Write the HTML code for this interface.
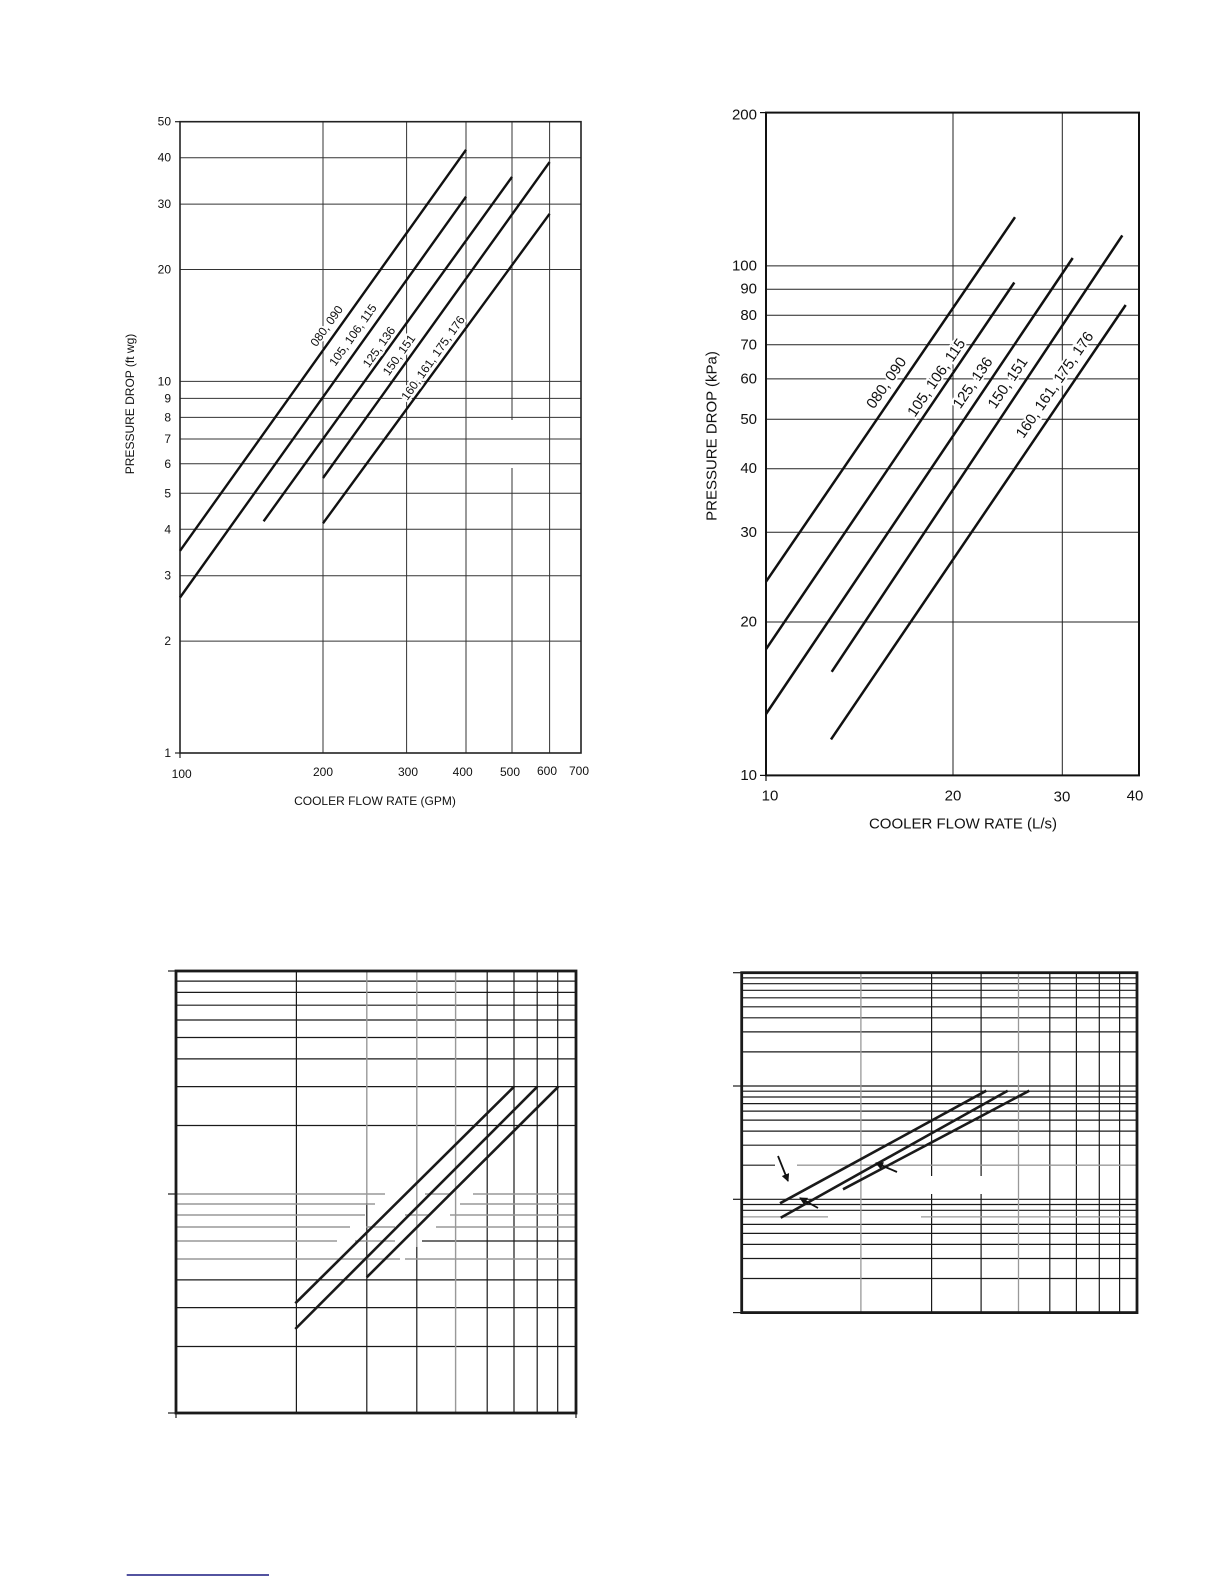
<!DOCTYPE html>
<html><head><meta charset="utf-8"><style>html,body{margin:0;padding:0;background:#fff}svg{display:block}</style></head>
<body>
<svg width="1224" height="1584" viewBox="0 0 1224 1584" xmlns="http://www.w3.org/2000/svg" font-family="Liberation Sans, sans-serif">
<defs>
<marker id="ah" markerWidth="8" markerHeight="8" refX="7" refY="4" orient="auto" markerUnits="userSpaceOnUse"><path d="M0,0 L8,4 L0,8 Z" fill="#111"/></marker>
</defs>
<rect width="1224" height="1584" fill="#fff"/>

<!-- ===== TOP LEFT ===== -->
<g stroke="#333" stroke-width="1" fill="none">
<line x1="180" y1="641.1" x2="581" y2="641.1"/><line x1="180" y1="575.7" x2="581" y2="575.7"/>
<line x1="180" y1="529.3" x2="581" y2="529.3"/><line x1="180" y1="493.3" x2="581" y2="493.3"/>
<line x1="180" y1="463.8" x2="581" y2="463.8"/><line x1="180" y1="439" x2="581" y2="439"/>
<line x1="180" y1="417.4" x2="581" y2="417.4"/><line x1="180" y1="398.4" x2="581" y2="398.4"/>
<line x1="180" y1="381.4" x2="581" y2="381.4"/><line x1="180" y1="269.5" x2="581" y2="269.5"/>
<line x1="180" y1="204.1" x2="581" y2="204.1"/><line x1="180" y1="157.7" x2="581" y2="157.7"/>
<line x1="323" y1="121.7" x2="323" y2="753"/><line x1="406.6" y1="121.7" x2="406.6" y2="753"/>
<line x1="466" y1="121.7" x2="466" y2="753"/><line x1="512" y1="121.7" x2="512" y2="420"/><line x1="512" y1="468" x2="512" y2="753"/>
<line x1="549.6" y1="121.7" x2="549.6" y2="753"/>
</g>
<rect x="180" y="121.7" width="401" height="631.3" fill="none" stroke="#222" stroke-width="1.6"/>
<g stroke="#222" stroke-width="1.2">
<line x1="175" y1="121.7" x2="180" y2="121.7"/><line x1="175" y1="753" x2="180" y2="753"/>
<line x1="180" y1="753" x2="180" y2="758"/>
</g>
<g stroke="#111" stroke-width="2.4" fill="none" stroke-linecap="butt">
<line x1="180" y1="550.8" x2="466" y2="149.8"/>
<line x1="180" y1="597.5" x2="466" y2="196.7"/>
<line x1="263.6" y1="521.3" x2="512" y2="176.9"/>
<line x1="323" y1="478" x2="549.6" y2="162.1"/>
<line x1="323" y1="523.3" x2="549.6" y2="213.8"/>
</g>
<g font-size="12" fill="#111" stroke="#fff" stroke-width="4" paint-order="stroke" text-anchor="middle" dominant-baseline="central">
<text transform="translate(326.7,326) rotate(-54.5)">080, 090</text>
<text transform="translate(353,335) rotate(-54.5)">105, 106, 115</text>
<text transform="translate(379,347) rotate(-54.5)">125, 136</text>
<text transform="translate(399,355) rotate(-54.5)">150, 151</text>
<text transform="translate(433,358) rotate(-54.5)">160, 161, 175, 176</text>
</g>
<g font-size="12" fill="#111" text-anchor="end" dominant-baseline="central">
<text x="171" y="121.7">50</text><text x="171" y="157.7">40</text><text x="171" y="204.1">30</text>
<text x="171" y="269.5">20</text><text x="171" y="381.4">10</text><text x="171" y="398.4">9</text>
<text x="171" y="417.4">8</text><text x="171" y="439">7</text><text x="171" y="463.8">6</text>
<text x="171" y="493.3">5</text><text x="171" y="529.3">4</text><text x="171" y="575.7">3</text>
<text x="171" y="641.1">2</text><text x="171" y="753">1</text>
</g>
<g font-size="12" fill="#111" text-anchor="middle" dominant-baseline="central">
<text x="181.7" y="774">100</text><text x="323" y="772">200</text><text x="408" y="772">300</text>
<text x="462.7" y="772">400</text><text x="510" y="772">500</text><text x="547" y="771">600</text><text x="579" y="771">700</text>
<text x="375" y="801">COOLER FLOW RATE (GPM)</text>
<text transform="translate(130,404) rotate(-90)">PRESSURE DROP (ft wg)</text>
</g>

<!-- ===== TOP RIGHT ===== -->
<g stroke="#222" stroke-width="1" fill="none">
<line x1="766" y1="622" x2="1139" y2="622"/><line x1="766" y1="532.3" x2="1139" y2="532.3"/>
<line x1="766" y1="468.7" x2="1139" y2="468.7"/><line x1="766" y1="419.3" x2="1139" y2="419.3"/>
<line x1="766" y1="378.9" x2="1139" y2="378.9"/><line x1="766" y1="344.8" x2="1139" y2="344.8"/>
<line x1="766" y1="315.3" x2="1139" y2="315.3"/><line x1="766" y1="289.2" x2="1139" y2="289.2"/>
<line x1="766" y1="265.9" x2="1139" y2="265.9"/>
<line x1="953" y1="112.6" x2="953" y2="775.4"/><line x1="1062.3" y1="112.6" x2="1062.3" y2="775.4"/>
</g>
<rect x="766" y="112.6" width="373" height="662.8" fill="none" stroke="#111" stroke-width="2"/>
<g stroke="#111" stroke-width="1.2">
<line x1="760" y1="112.6" x2="766" y2="112.6"/><line x1="760" y1="775.4" x2="766" y2="775.4"/>
<line x1="766" y1="775.4" x2="766" y2="781"/>
</g>
<g stroke="#111" stroke-width="2.5" fill="none">
<line x1="766" y1="581.7" x2="1015" y2="217.2"/>
<line x1="766" y1="649.2" x2="1014.3" y2="282.5"/>
<line x1="766" y1="714" x2="1072.7" y2="258"/>
<line x1="831.7" y1="671.8" x2="1122.3" y2="235.4"/>
<line x1="831" y1="739.4" x2="1125.7" y2="305"/>
</g>
<g font-size="15" fill="#111" stroke="#fff" stroke-width="4" paint-order="stroke" text-anchor="middle" dominant-baseline="central">
<text transform="translate(886.7,383) rotate(-55.6)">080, 090</text>
<text transform="translate(936.7,378) rotate(-55.6)">105, 106, 115</text>
<text transform="translate(973,383) rotate(-55.6)">125, 136</text>
<text transform="translate(1008,383) rotate(-55.6)">150, 151</text>
<text transform="translate(1055,385) rotate(-55.6)">160, 161, 175, 176</text>
</g>
<g font-size="15" fill="#111" text-anchor="end" dominant-baseline="central">
<text x="757" y="115">200</text><text x="757" y="265.9">100</text><text x="757" y="289.2">90</text>
<text x="757" y="315.3">80</text><text x="757" y="344.8">70</text><text x="757" y="378.9">60</text>
<text x="757" y="419.3">50</text><text x="757" y="468.7">40</text><text x="757" y="532.3">30</text>
<text x="757" y="622">20</text><text x="757" y="775.4">10</text>
</g>
<g font-size="15" fill="#111" text-anchor="middle" dominant-baseline="central">
<text x="770" y="796">10</text><text x="953" y="796">20</text><text x="1062" y="797">30</text><text x="1135" y="796">40</text>
<text x="963" y="824">COOLER FLOW RATE (L/s)</text>
<text transform="translate(712,436) rotate(-90)">PRESSURE DROP (kPa)</text>
</g>

<!-- ===== BOTTOM LEFT ===== -->
<g stroke="#1a1a1a" stroke-width="1.2" fill="none">
<line x1="176" y1="1125.5" x2="576" y2="1125.5"/><line x1="176" y1="1086.6" x2="576" y2="1086.6"/>
<line x1="176" y1="1058.9" x2="576" y2="1058.9"/><line x1="176" y1="1037.5" x2="576" y2="1037.5"/>
<line x1="176" y1="1020" x2="576" y2="1020"/><line x1="176" y1="1005.2" x2="576" y2="1005.2"/>
<line x1="176" y1="992.4" x2="576" y2="992.4"/><line x1="176" y1="981.1" x2="576" y2="981.1"/>
<line x1="176" y1="1346.5" x2="576" y2="1346.5"/><line x1="176" y1="1307.6" x2="576" y2="1307.6"/>
<line x1="176" y1="1279.9" x2="576" y2="1279.9"/><line x1="422" y1="1241" x2="576" y2="1241"/>
<line x1="296.4" y1="971" x2="296.4" y2="1413"/>
<line x1="366.8" y1="1203" x2="366.8" y2="1413"/><line x1="416.8" y1="1247" x2="416.8" y2="1413"/>
<line x1="487.2" y1="971" x2="487.2" y2="1413"/><line x1="514" y1="971" x2="514" y2="1413"/>
<line x1="537.2" y1="971" x2="537.2" y2="1413"/><line x1="557.7" y1="971" x2="557.7" y2="1413"/>
</g>
<g stroke="#999" stroke-width="1.4" fill="none">
<line x1="366.8" y1="971" x2="366.8" y2="1203"/><line x1="416.8" y1="971" x2="416.8" y2="1247"/>
<line x1="455.6" y1="971" x2="455.6" y2="1413"/>
<line x1="176" y1="1194" x2="385" y2="1194"/><line x1="425" y1="1194" x2="450" y2="1194"/><line x1="473" y1="1194" x2="576" y2="1194"/>
<line x1="176" y1="1204" x2="375" y2="1204"/><line x1="460" y1="1204" x2="576" y2="1204"/>
<line x1="176" y1="1215" x2="365" y2="1215"/><line x1="405" y1="1215" x2="430" y2="1215"/><line x1="450" y1="1215" x2="576" y2="1215"/>
<line x1="176" y1="1227" x2="350" y2="1227"/><line x1="366" y1="1227" x2="395" y2="1227"/><line x1="436" y1="1227" x2="576" y2="1227"/>
<line x1="176" y1="1241" x2="337" y2="1241"/><line x1="355" y1="1241" x2="395" y2="1241"/>
<line x1="176" y1="1259" x2="400" y2="1259"/><line x1="405" y1="1259" x2="576" y2="1259"/>
</g>
<rect x="176" y="971" width="400" height="442" fill="none" stroke="#1a1a1a" stroke-width="2.8"/>
<g stroke="#1a1a1a" stroke-width="1.2">
<line x1="168" y1="971" x2="176" y2="971"/><line x1="168" y1="1194" x2="176" y2="1194"/><line x1="168" y1="1413" x2="176" y2="1413"/>
<line x1="176" y1="1413" x2="176" y2="1418"/><line x1="576" y1="1413" x2="576" y2="1418"/>
</g>
<g stroke="#1a1a1a" stroke-width="2.6" fill="none">
<line x1="295.3" y1="1303.3" x2="514" y2="1086.7"/>
<line x1="295.3" y1="1329" x2="537.3" y2="1086.7"/>
<line x1="366.7" y1="1277.3" x2="558.3" y2="1086.7"/>
</g>

<!-- ===== BOTTOM RIGHT ===== -->
<g stroke="#1a1a1a" stroke-width="1.2" fill="none">
<line x1="742" y1="1051.9" x2="1137" y2="1051.9"/><line x1="742" y1="1031.9" x2="1137" y2="1031.9"/>
<line x1="742" y1="1017.8" x2="1137" y2="1017.8"/><line x1="742" y1="1006.8" x2="1137" y2="1006.8"/>
<line x1="742" y1="997.8" x2="1137" y2="997.8"/><line x1="742" y1="990.3" x2="1137" y2="990.3"/>
<line x1="742" y1="983.7" x2="1137" y2="983.7"/><line x1="742" y1="977.9" x2="1137" y2="977.9"/>
<line x1="742" y1="1086" x2="1137" y2="1086"/>
<line x1="742" y1="1145.2" x2="1137" y2="1145.2"/>
<line x1="742" y1="1131.1" x2="1137" y2="1131.1"/><line x1="742" y1="1120.1" x2="1137" y2="1120.1"/>
<line x1="742" y1="1111.1" x2="1137" y2="1111.1"/><line x1="742" y1="1103.6" x2="1137" y2="1103.6"/>
<line x1="742" y1="1097" x2="1137" y2="1097"/><line x1="742" y1="1091.2" x2="1137" y2="1091.2"/>
<line x1="742" y1="1199.3" x2="1137" y2="1199.3"/>
<line x1="742" y1="1278.5" x2="1137" y2="1278.5"/><line x1="742" y1="1258.5" x2="1137" y2="1258.5"/>
<line x1="742" y1="1244.4" x2="1137" y2="1244.4"/><line x1="742" y1="1233.4" x2="1137" y2="1233.4"/>
<line x1="742" y1="1224.4" x2="1137" y2="1224.4"/><line x1="742" y1="1210.3" x2="1137" y2="1210.3"/>
<line x1="742" y1="1204.5" x2="1137" y2="1204.5"/>
<line x1="742" y1="1165.2" x2="775" y2="1165.2"/>
<line x1="931.6" y1="972.7" x2="931.6" y2="1176"/><line x1="931.6" y1="1194" x2="931.6" y2="1312.6"/>
<line x1="981.1" y1="972.7" x2="981.1" y2="1176"/><line x1="981.1" y1="1194" x2="981.1" y2="1312.6"/>
<line x1="1049.8" y1="972.7" x2="1049.8" y2="1312.6"/><line x1="1076.4" y1="972.7" x2="1076.4" y2="1312.6"/>
<line x1="1099.3" y1="972.7" x2="1099.3" y2="1312.6"/><line x1="1119.6" y1="972.7" x2="1119.6" y2="1312.6"/>
</g>
<g stroke="#999" stroke-width="1.3" fill="none">
<line x1="860.9" y1="972.7" x2="860.9" y2="1312.6"/><line x1="1018.5" y1="972.7" x2="1018.5" y2="1312.6"/>
<line x1="797" y1="1165.2" x2="1137" y2="1165.2"/>
<line x1="742" y1="1216.9" x2="828" y2="1216.9"/><line x1="921" y1="1216.9" x2="1137" y2="1216.9"/>
</g>
<rect x="741.7" y="972.7" width="395.3" height="339.9" fill="none" stroke="#1a1a1a" stroke-width="2.8"/>
<g stroke="#1a1a1a" stroke-width="1.2">
<line x1="733" y1="972.7" x2="742" y2="972.7"/><line x1="733" y1="1086" x2="742" y2="1086"/>
<line x1="733" y1="1199.3" x2="742" y2="1199.3"/><line x1="733" y1="1312.6" x2="742" y2="1312.6"/>
</g>
<g stroke="#1a1a1a" stroke-width="2.6" fill="none">
<line x1="780" y1="1203.3" x2="986.3" y2="1090.7"/>
<line x1="780.7" y1="1217.7" x2="1007.7" y2="1090.7"/>
<line x1="843" y1="1189.3" x2="1029.3" y2="1090.7"/>
</g>
<g stroke="#111" stroke-width="1.8" fill="none">
<line x1="778" y1="1156" x2="788" y2="1181" marker-end="url(#ah)"/>
<line x1="897" y1="1172" x2="876" y2="1163" marker-end="url(#ah)"/>
<line x1="818" y1="1208" x2="800" y2="1198" marker-end="url(#ah)"/>
</g>

<line x1="126.7" y1="1575" x2="269" y2="1575" stroke="#1a1a80" stroke-width="1.5"/>
</svg>
</body></html>
